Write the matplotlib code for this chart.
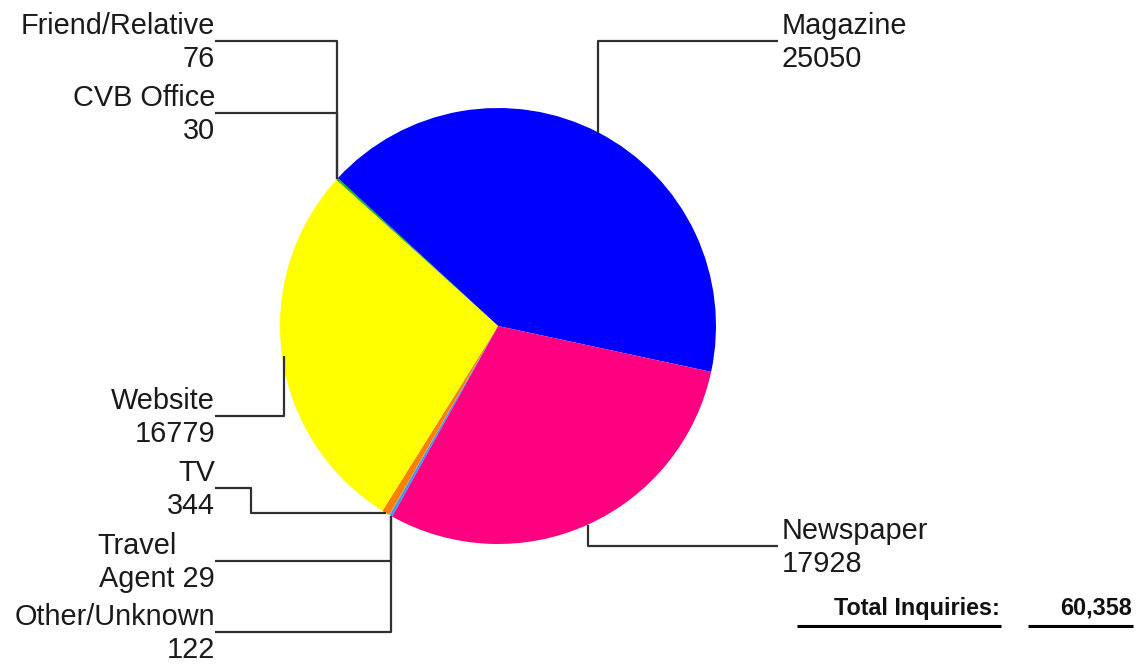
import numpy as np
import matplotlib
matplotlib.use("Agg")
import matplotlib.pyplot as plt

# ---- data ----
categories = ["CVB Office", "Friend/Relative", "Magazine", "Newspaper",
              "Other/Unknown", "Travel Agent", "TV", "Website"]
values = [30, 76, 25050, 17928, 122, 29, 344, 16779]
colors = ["#007000", "#00C000", "#0000FF", "#FF0080",
          "#3399FF", "#909090", "#FF8000", "#FFFF00"]
total_label = "Total Inquiries:"
total_value = sum(values)

# ---- layout (pixel space) ----
W, H = 1138, 664
fig = plt.figure(figsize=(W / 100, H / 100), dpi=100)
ax = fig.add_axes([0, 0, 1, 1])
plt.rcParams['font.family'] = ['Liberation Sans', 'DejaVu Sans']

def Y(y):
    return H - y

cx, cy, R = 498, 326, 218
wedges, _ = ax.pie(values, colors=colors, startangle=137.9, counterclock=False,
                   center=(cx, Y(cy)), radius=R, frame=True,
                   wedgeprops=dict(linewidth=0))
ax.set_xlim(0, W)
ax.set_ylim(0, H)
ax.set_aspect('auto')
ax.axis('off')

def anchor(i):
    w = wedges[i]
    mid = np.deg2rad((w.theta1 + w.theta2) / 2)
    return cx + R * np.cos(mid), Y(cy) + R * np.sin(mid)

LC = "#303030"
LW = 1.6
FS = 20.8
TC = "#1a1a1a"
left_x = 215
right_x = 778

def label_lines(i, line_y, side, text_lines, elbow=None, anchor_idx=None, dx=0):
    ax_, ay_ = anchor(i if anchor_idx is None else anchor_idx)
    ax_ += dx
    ly = Y(line_y)
    if side == "left":
        if elbow is None:
            xs = [ax_, ax_, left_x]
            ys = [ay_, ly, ly]
        else:
            xs = [ax_, elbow, elbow, left_x]
            ys = [ay_, ay_, ly, ly]
        ax.plot(xs, ys, color=LC, lw=LW, solid_capstyle='butt')
        tx, ha = left_x, "right"
    else:
        xs = [ax_, ax_, right_x]
        ys = [ay_, ly, ly]
        ax.plot(xs, ys, color=LC, lw=LW, solid_capstyle='butt')
        tx, ha = right_x + 4, "left"
    t1 = ax.text(tx, Y(line_y - 7), text_lines[0], ha=ha, va="baseline",
                 fontsize=FS, color=TC)
    t2 = ax.text(tx, Y(line_y + 26), text_lines[1], ha=ha, va="baseline",
                 fontsize=FS, color=TC)
    return t1, t2

idx = {c: k for k, c in enumerate(categories)}
label_lines(idx["Friend/Relative"], 41, "left", ["Friend/Relative", str(values[idx["Friend/Relative"]])])
label_lines(idx["CVB Office"], 113, "left", ["CVB Office", str(values[idx["CVB Office"]])],
            anchor_idx=idx["Friend/Relative"])
label_lines(idx["Website"], 416, "left", ["Website", str(values[idx["Website"]])], dx=2)
label_lines(idx["TV"], 488, "left", ["TV", str(values[idx["TV"]])], elbow=251)
t_travel, t_agent = label_lines(idx["Travel Agent"], 561, "left",
                                ["Travel", "Agent " + str(values[idx["Travel Agent"]])],
                                anchor_idx=idx["Other/Unknown"])
label_lines(idx["Other/Unknown"], 632, "left", ["Other/Unknown", str(values[idx["Other/Unknown"]])])
label_lines(idx["Magazine"], 41, "right", ["Magazine", str(values[idx["Magazine"]])])
label_lines(idx["Newspaper"], 546, "right", ["Newspaper", str(values[idx["Newspaper"]])])

# "Travel" line is left-aligned with "Agent 29"
renderer = fig.canvas.get_renderer()
bb = t_agent.get_window_extent(renderer=renderer)
t_travel.set_ha("left")
t_travel.set_x(bb.x0 - 2)

# total
ax.text(1000, Y(615), total_label, ha="right", va="baseline",
        fontsize=16.8, fontweight="bold", color="#111111")
ax.text(1132, Y(615), f"{total_value:,}", ha="right", va="baseline",
        fontsize=16.8, fontweight="bold", color="#111111")
ax.plot([797, 1001], [Y(626), Y(626)], color="black", lw=2.2, solid_capstyle='butt')
ax.plot([1028, 1133], [Y(626), Y(626)], color="black", lw=2.2, solid_capstyle='butt')

fig.savefig("out.png", dpi=100, facecolor="white")
